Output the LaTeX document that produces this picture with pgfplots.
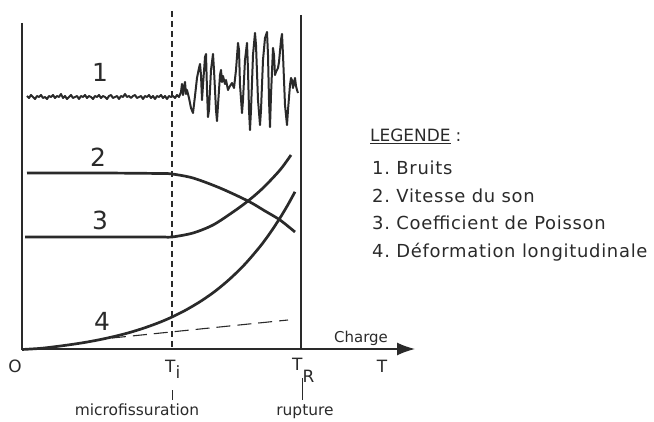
\documentclass[border=0pt]{standalone}
\usepackage{fontspec}
\setmainfont{DejaVu Sans}
\newfontfamily\legfont[LetterSpace=4]{DejaVu Sans}
\usepackage{pgfplots}
\pgfplotsset{compat=1.18}
\usetikzlibrary{arrows.meta}
\definecolor{ink}{HTML}{2A2A2A}
\begin{document}
\begin{tikzpicture}
\begin{axis}[width=654bp, height=421bp, scale only axis,
  xmin=0, xmax=654, ymin=0, ymax=421, y dir=reverse,
  hide axis, clip=false]
\path[draw=none] (axis cs:0,0) rectangle (axis cs:654,421);
% frame lines
\draw[ink, line width=1.5bp] (axis cs:22,23) -- (axis cs:22,349);
\draw[ink, line width=1.5bp, -{Latex[length=18bp,width=13bp]}] (axis cs:21,349) -- (axis cs:415,349);
\draw[ink, line width=1.2bp, dash pattern=on 6bp off 4bp] (axis cs:172,11) -- (axis cs:172,349);
\draw[ink, line width=1.3bp] (axis cs:301,15) -- (axis cs:301,349);
\draw[ink, line width=0.7bp] (axis cs:172,390) -- (axis cs:172,400);
\draw[ink, line width=0.7bp] (axis cs:302,378) -- (axis cs:302,400);
% curve 1: noise
\addplot[ink, line width=2bp, line join=round] coordinates {
(27,96)(29,98)(31,95)(33,97)(35,99)(37,96)(39,97)(41,95)(43,98)(45,97)(47,99)(49,96)(51,97)(53,95)(55,98)(57,96)(59,97)(61,94)(63,98)(65,96)(67,99)(69,97)(71,95)(73,98)(75,97)(77,96)(79,99)(81,96)(83,97)(85,95)(87,98)(89,96)(91,97)(93,99)(95,96)(97,97)(99,95)(101,98)(103,96)(105,97)(107,99)(109,96)(111,95)(113,98)(115,97)(117,96)(119,99)(121,96)(123,97)(125,94)(127,97)(129,96)(131,98)(133,96)(135,95)(137,98)(139,97)(141,96)(143,99)(145,96)(147,97)(149,95)(151,98)(153,96)(155,99)(157,96)(159,97)(161,95)(163,98)(165,96)(167,99)(169,96)(171,97)(173,96)(175,98)(177,95)(179,97)
(181,92)(182,84)(183,95)(184,88)(185,82)(186,94)(187,90)(189,98)(191,108)(193,113)(195,96)(197,78)(199,68)(200,64)(201,75)(202,100)(203,85)(205,57)(206,54)(207,90)(208,117)(209,110)(211,70)(213,54)(214,70)(216,110)(217,121)(218,105)(220,75)(221,70)(222,82)(223,76)(225,84)(226,80)(228,90)(230,86)(232,83)(234,88)(236,70)(238,43)(239,50)(240,85)(242,113)(243,100)(245,60)(247,43)(248,70)(249,110)(250,130)(251,110)(253,55)(255,33)(256,45)(258,100)(260,125)(261,110)(263,60)(265,38)(267,32)(268,55)(269,100)(270,127)(271,95)(273,48)(274,55)(275,75)(276,72)(278,68)(279,62)(281,40)(282,34)(283,55)(285,105)(287,125)(288,110)(290,85)(291,78)(292,80)(293,88)(294,83)(295,78)(296,86)(297,90)(298,93)
};
% curve 2
\addplot[ink, line width=2.7bp, smooth] coordinates {
(27,173)(100,173)(160,173.5)(172,174)(193,178)(220,188)(248,201)(265,211)(280,220)(295,232)
};
% curve 3
\addplot[ink, line width=2.7bp, smooth] coordinates {
(25,237)(100,237)(160,237)(172,237)(193,233)(213,225)(233,212)(248,201)(263,188)(280,170)(291,155)
};
% curve 4
\addplot[ink, line width=2.7bp, smooth] coordinates {
(22,349.5)(40,348.4)(55,346.7)(70,344.7)(85,342.4)(100,339.6)(115,336.3)(130,332.4)(145,327.7)(160,322.2)(172,317)(185,310.5)(200,301.7)(215,291.3)(230,278.8)(245,264.1)(260,246.6)(270,233.1)(280,218)(288,204.6)(295,191.8)
};
% tangent (dashed)
\addplot[ink, line width=1.1bp, dash pattern=on 14bp off 7bp] coordinates {(112,338)(288,320)};
% curve labels
\node[ink, font=\fontsize{25}{29}\selectfont, anchor=base] at (axis cs:100,82) {1};
\node[ink, font=\fontsize{25}{29}\selectfont, anchor=base] at (axis cs:98,167) {2};
\node[ink, font=\fontsize{25}{29}\selectfont, anchor=base] at (axis cs:100,230) {3};
\node[ink, font=\fontsize{25}{29}\selectfont, anchor=base] at (axis cs:102,330) {4};
% axis labels
\node[ink, font=\fontsize{17}{20}\selectfont, anchor=base] at (axis cs:15,372) {O};
\node[ink, font=\fontsize{17}{20}\selectfont, anchor=base west, inner sep=0pt] at (axis cs:165,372) {T\raisebox{-6bp}{i}};
\node[ink, font=\fontsize{17}{20}\selectfont, anchor=base west, inner sep=0pt] at (axis cs:292,370) {T\raisebox{-12bp}{R}};
\node[ink, font=\fontsize{17}{20}\selectfont, anchor=base] at (axis cs:382,372) {T};
\node[ink, font=\fontsize{15}{18}\selectfont, anchor=base] at (axis cs:361,342) {Charge};
\node[ink, font=\fontsize{15.5}{18}\selectfont, anchor=base] at (axis cs:137,415) {microfissuration};
\node[ink, font=\fontsize{15.5}{18}\selectfont, anchor=base] at (axis cs:305,415) {rupture};
% legend
\node[ink, font=\fontsize{17}{20}\selectfont, anchor=base west, inner sep=0pt] at (axis cs:370,142) {\underline{LEGENDE}\hspace{5bp}:};
\node[ink, font=\legfont\fontsize{18}{21}\selectfont, anchor=base west, inner sep=0pt] at (axis cs:372,175) {1.\ Bruits};
\node[ink, font=\legfont\fontsize{18}{21}\selectfont, anchor=base west, inner sep=0pt] at (axis cs:372,203) {2.\ Vitesse du son};
\node[ink, font=\legfont\fontsize{18}{21}\selectfont, anchor=base west, inner sep=0pt] at (axis cs:372,230) {3.\ Coefficient de Poisson};
\node[ink, font=\legfont\fontsize{18}{21}\selectfont, anchor=base west, inner sep=0pt] at (axis cs:372,257) {4.\ Déformation longitudinale};
\end{axis}
\end{tikzpicture}
\end{document}
